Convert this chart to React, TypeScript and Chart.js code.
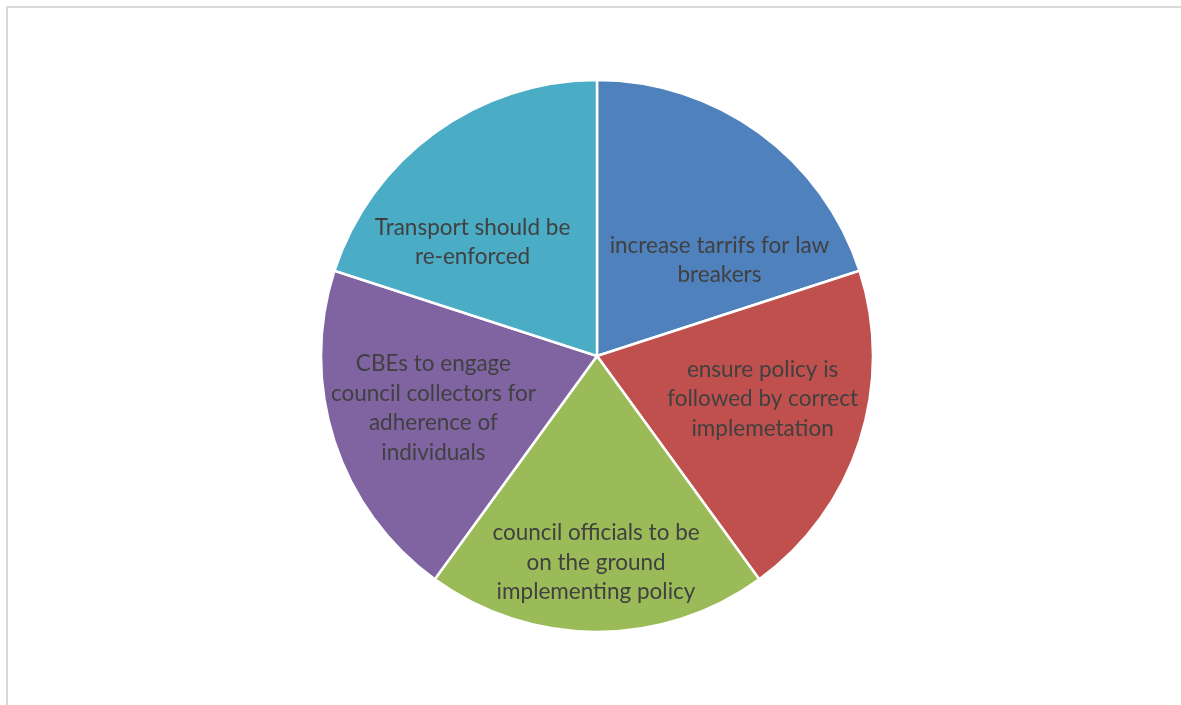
import React, { useEffect, useRef } from "react";
import { Chart, registerables } from "chart.js";

Chart.register(...registerables);

// Slice names, drawn clockwise from 12 o'clock
const categories: string[][] = [
  ["increase tarrifs for law", "breakers"],
  ["ensure policy is", "followed by correct", "implemetation"],
  ["council officials to be", "on the ground", "implementing policy"],
  ["CBEs to engage", "council collectors for", "adherence of", "individuals"],
  ["Transport should be", "re-enforced"],
];

const values: number[] = [1, 1, 1, 1, 1];

const sliceColors: string[] = ["#4F81BD", "#C0504D", "#9BBB59", "#8064A2", "#4BACC6"];

// Label anchor of each slice, as a fraction of the radius from the pie centre
const labelOffsets: [number, number][] = [
  [0.4436, -0.3473],
  [0.6, 0.1564],
  [-0.0036, 0.749],
  [-0.5927, 0.189],
  [-0.4509, -0.4127],
];

const LABEL_FONT = '22.5px Lato, "Open Sans", sans-serif';
const LINE_HEIGHT = 29.5;

const sliceLabels = {
  id: "sliceLabels",
  afterDatasetsDraw(chart: Chart) {
    const ctx = chart.ctx;
    const meta = chart.getDatasetMeta(0);
    ctx.save();
    ctx.font = LABEL_FONT;
    ctx.fillStyle = "#404040";
    ctx.textAlign = "center";
    ctx.textBaseline = "middle";
    meta.data.forEach((arc: any, i: number) => {
      const { x, y, outerRadius } = arc.getProps(["x", "y", "outerRadius"], true);
      const [fx, fy] = labelOffsets[i];
      const lines = categories[i];
      const cx = x + fx * outerRadius;
      const cy = y + fy * outerRadius;
      const top = cy - ((lines.length - 1) * LINE_HEIGHT) / 2;
      lines.forEach((line, j) => ctx.fillText(line, cx, top + j * LINE_HEIGHT));
    });
    ctx.restore();
  },
};

export default function App() {
  const canvasRef = useRef<HTMLCanvasElement | null>(null);

  useEffect(() => {
    if (!canvasRef.current) return;
    const chart = new Chart(canvasRef.current, {
      type: "pie",
      data: {
        labels: categories.map((c) => c.join(" ")),
        datasets: [
          {
            data: values,
            backgroundColor: sliceColors,
            borderColor: "#ffffff",
            borderWidth: 2.5,
          },
        ],
      },
      options: {
        responsive: false,
        animation: false,
        radius: 276,
        layout: { padding: { left: 13, top: 7, right: 0, bottom: 0 } },
        plugins: {
          legend: { display: false },
          tooltip: { enabled: false },
        },
      },
      plugins: [sliceLabels],
    });
    return () => chart.destroy();
  }, []);

  return (
    <div style={{ position: "fixed", inset: 0, overflow: "hidden", background: "#ffffff" }}>
      <div
        style={{
          position: "absolute",
          left: 6,
          top: 6,
          width: 1300,
          height: 800,
          border: "2px solid #d9d9d9",
        }}
      />
      <canvas
        ref={canvasRef}
        width={1181}
        height={705}
        style={{ position: "absolute", left: 0, top: 0, width: 1181, height: 705 }}
      />
    </div>
  );
}
